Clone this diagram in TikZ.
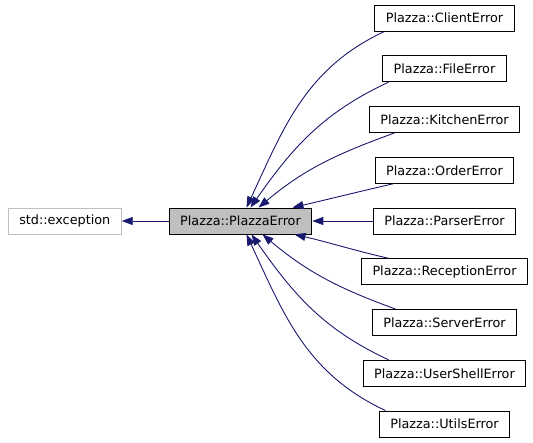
\documentclass[tikz,border=0pt]{standalone}
\usepackage{fontspec}
\setmainfont{DejaVu Sans}
\usetikzlibrary{arrows.meta,positioning}
\definecolor{cedge}{HTML}{191970}
\definecolor{cgrey}{HTML}{BFBFBF}

\begin{document}
\begin{tikzpicture}[
  x=1pt, y=1pt,
  font=\fontsize{12.8}{15}\selectfont,
  node distance=23.85pt,
  cls/.style={draw=black, fill=white, line width=0.9pt, inner xsep=11pt,
              inner ysep=0pt, minimum height=26pt},
  mainbox/.style={cls, fill=cgrey},
  extbox/.style={cls, draw=cgrey},
  inh/.style={{Triangle[length=11pt,width=8pt]}-, line width=0.9pt, cedge},
]
\useasboundingbox (0,0) rectangle (533,443);
% ---------- the base classes ----------
\node[mainbox] (plazza) at (240.5,222) {Plazza::PlazzaError};
\node[extbox, left=47pt of plazza] (exc) {std::exception};
\draw[inh] (exc) -- (plazza);
% ---------- the derived errors ----------
\node[cls] (client) at (444.5,425) {Plazza::ClientError};
\node[cls, below=of client] (file) {Plazza::FileError};
\node[cls, below=of file] (kitchen) {Plazza::KitchenError};
\node[cls, below=of kitchen] (order) {Plazza::OrderError};
\node[cls, below=of order] (parser) {Plazza::ParserError};
\node[cls, below=of parser] (reception) {Plazza::ReceptionError};
\node[cls, below=of reception] (server) {Plazza::ServerError};
\node[cls, below=of server] (usershell) {Plazza::UserShellError};
\node[cls, below=of usershell] (utils) {Plazza::UtilsError};
% upper fan
\draw[inh] ([xshift=6pt]plazza.north) to[out=65, in=205] ([xshift=-60pt]client.south);
\draw[inh] ([xshift=10pt]plazza.north) to[out=55, in=205] ([xshift=-56pt]file.south);
\draw[inh] ([xshift=18pt]plazza.north) to[out=40, in=200] ([xshift=-50pt]kitchen.south);
\draw[inh] ([xshift=52pt]plazza.north) to[out=13, in=193] ([xshift=-51pt]order.south);
\draw[inh] (plazza) -- (parser);
% lower fan
\draw[inh] ([xshift=54pt]plazza.south) to[out=-13, in=167] ([xshift=-56pt]reception.north);
\draw[inh] ([xshift=22pt]plazza.south) to[out=-40, in=160] ([xshift=-49pt]server.north);
\draw[inh] ([xshift=11pt]plazza.south) to[out=-55, in=155] ([xshift=-56pt]usershell.north);
\draw[inh] ([xshift=6pt]plazza.south) to[out=-65, in=155] ([xshift=-59pt]utils.north);
\end{tikzpicture}
\end{document}
